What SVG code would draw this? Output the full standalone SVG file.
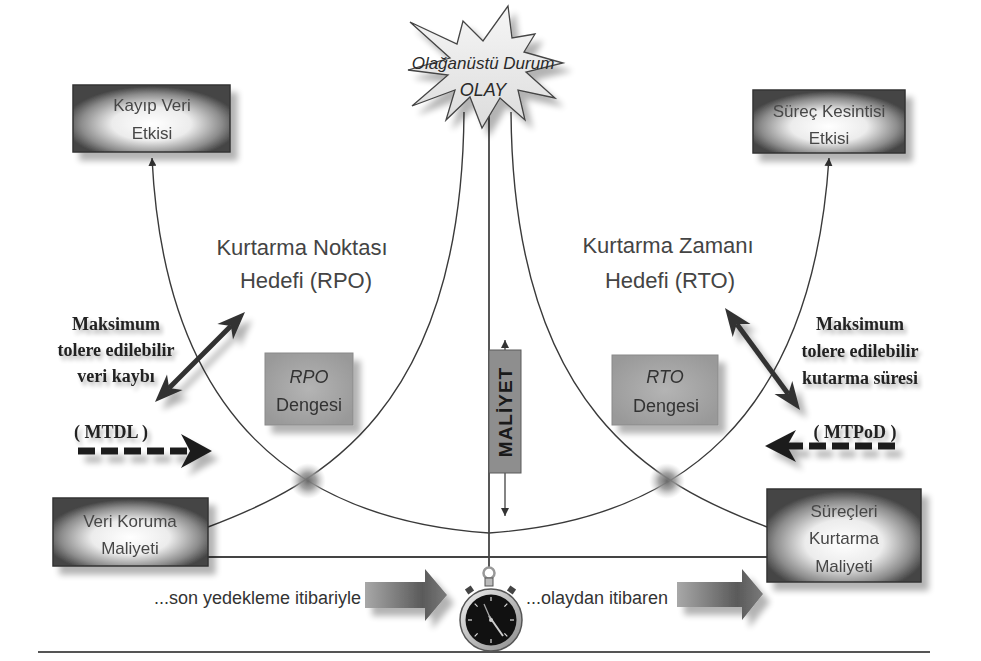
<svg xmlns="http://www.w3.org/2000/svg" width="981" height="661" viewBox="0 0 981 661">
  <defs>
    <style>
      .sans { font-family: "Liberation Sans", Arial, sans-serif; }
      .serif { font-family: "Liberation Serif", "Times New Roman", serif; font-weight: bold; fill: #222; font-size: 18px; }
      .boxtxt { font-family: "Liberation Sans", Arial, sans-serif; font-size: 17px; fill: #474747; text-anchor: middle; }
      .title { font-family: "Liberation Sans", Arial, sans-serif; font-size: 22px; fill: #444; text-anchor: middle; }
      .bal { font-family: "Liberation Sans", Arial, sans-serif; font-size: 18px; fill: #333; text-anchor: middle; }
      .curve { fill: none; stroke: #3a3a3a; stroke-width: 1.4; }
      .axis { fill: none; stroke: #444; stroke-width: 1.8; }
      .darkbox { fill: url(#boxGrad); stroke: #333; stroke-width: 1.5; }
      .graybox { fill: url(#grayGrad); stroke: #8a8a8a; stroke-width: 1; }
      .dbl { fill: #333; }
      .dash { stroke: #1e1e1e; stroke-width: 7; stroke-dasharray: 17 6; fill: none; }
    </style>
    <radialGradient id="boxGrad" cx="0.5" cy="0.58" r="0.56">
      <stop offset="0" stop-color="#ffffff"/>
      <stop offset="0.45" stop-color="#ececec"/>
      <stop offset="0.8" stop-color="#8c8c8c"/>
      <stop offset="1" stop-color="#444"/>
    </radialGradient>
    <radialGradient id="grayGrad" cx="0.5" cy="0.5" r="0.6">
      <stop offset="0" stop-color="#b4b4b4"/>
      <stop offset="1" stop-color="#999"/>
    </radialGradient>
    <radialGradient id="glow" cx="0.5" cy="0.5" r="0.5">
      <stop offset="0" stop-color="#6a6a6a"/>
      <stop offset="0.45" stop-color="#959595" stop-opacity="0.85"/>
      <stop offset="1" stop-color="#c8c8c8" stop-opacity="0"/>
    </radialGradient>
    <linearGradient id="blockGrad" x1="0" y1="0" x2="1" y2="0">
      <stop offset="0" stop-color="#a8a8a8"/>
      <stop offset="0.7" stop-color="#5a5a5a"/>
      <stop offset="1" stop-color="#7a7a7a"/>
    </linearGradient>
    <linearGradient id="starGrad" x1="0" y1="0" x2="0" y2="1">
      <stop offset="0" stop-color="#f6f6f6"/>
      <stop offset="1" stop-color="#dcdcdc"/>
    </linearGradient>
    <linearGradient id="rimGrad" x1="0" y1="0" x2="1" y2="1">
      <stop offset="0" stop-color="#f0f0f0"/>
      <stop offset="1" stop-color="#8a8a8a"/>
    </linearGradient>
    <filter id="shadow" x="-20%" y="-20%" width="150%" height="160%">
      <feGaussianBlur in="SourceAlpha" stdDeviation="3"/>
      <feOffset dx="7" dy="8" result="b"/>
      <feComponentTransfer><feFuncA type="linear" slope="0.3"/></feComponentTransfer>
      <feMerge><feMergeNode/><feMergeNode in="SourceGraphic"/></feMerge>
    </filter>
    <filter id="tshadow" x="-20%" y="-40%" width="150%" height="190%">
      <feGaussianBlur in="SourceAlpha" stdDeviation="2"/>
      <feOffset dx="3" dy="4"/>
      <feComponentTransfer><feFuncA type="linear" slope="0.3"/></feComponentTransfer>
      <feMerge><feMergeNode/><feMergeNode in="SourceGraphic"/></feMerge>
    </filter>
    <marker id="tip" viewBox="0 0 10 10" refX="10" refY="5" markerWidth="8" markerHeight="8" markerUnits="userSpaceOnUse" orient="auto-start-reverse">
      <path d="M0,0 L10,5 L0,10 z" fill="#333"/>
    </marker>
  </defs>

  <rect width="981" height="661" fill="#ffffff"/>

  <!-- connectors: curves, axes and arrows -->
  <g id="connectors">
    <!-- RPO rising cost curve and RTO rising cost curve -->
    <path class="curve" d="M208,527 C320,485 462,410 464,112"/>
    <path class="curve" d="M767,527 C655,485 513,410 511,112"/>
    <!-- impact curves descending to the event line -->
    <path class="curve" d="M152,158 C165,420 300,520 489,533" marker-start="url(#tip)"/>
    <path class="curve" d="M829,158 C812,420 677,520 489,533" marker-start="url(#tip)"/>
    <!-- balance points -->
    <circle cx="308" cy="481" r="18" fill="url(#glow)"/>
    <circle cx="667" cy="481" r="18" fill="url(#glow)"/>
    <!-- event axis and time axis -->
    <line class="axis" x1="489" y1="90" x2="489" y2="567"/>
    <line class="axis" x1="208" y1="557" x2="767" y2="557"/>
    <line x1="38" y1="652" x2="930" y2="652" stroke="#555" stroke-width="2"/>
    <!-- cost arrows -->
    <line x1="505" y1="350" x2="505" y2="340" stroke="#333" stroke-width="1.2" marker-end="url(#tip)"/>
    <line x1="505" y1="473" x2="505" y2="516" stroke="#333" stroke-width="1.2" marker-end="url(#tip)"/>

    <!-- double arrows -->
    <g filter="url(#shadow)">
      <line x1="169.1" y1="387.9" x2="230.9" y2="326.1" stroke="#333" stroke-width="5"/>
      <polygon class="dbl" points="245,312 233,339.6 230.9,326.1 217.4,324"/>
      <polygon class="dbl" points="155,402 182.6,390 169.1,387.9 167,374.4"/>
      <line x1="736.8" y1="324.1" x2="788.2" y2="393.9" stroke="#333" stroke-width="5"/>
      <polygon class="dbl" points="725,308 732.7,337.1 736.8,324.1 750.5,324.1"/>
      <polygon class="dbl" points="800,410 774.5,393.9 788.2,393.9 792.3,380.9"/>
    </g>

    <!-- dashed arrows -->
    <g filter="url(#shadow)">
      <line class="dash" x1="78" y1="451" x2="190" y2="451"/>
      <polygon points="212,451 181,434 190,451 181,468" fill="#1e1e1e"/>
      <line class="dash" x1="895" y1="446" x2="787" y2="446"/>
      <polygon points="765,446 796,430 787,446 796,462" fill="#1e1e1e"/>
    </g>

    <!-- block arrows along the time axis -->
    <g filter="url(#shadow)">
      <polygon points="365,582 425,582 425,569 447,595 425,621 425,608 365,608" fill="url(#blockGrad)"/>
      <polygon points="677,582 742,582 742,569 763,594 742,620 742,607 677,607" fill="url(#blockGrad)"/>
    </g>
  </g>

  <!-- event starburst -->
  <g id="event" filter="url(#shadow)">
    <polygon points="508,6 512,38 535,34 524,52 563,63 526,72 555,98 518,90 525,120 500,98 482,128 470,97 446,120 455,90 412,106 448,75 408,70 450,58 410,22 457,44 463,21 483,41" fill="url(#starGrad)" stroke="#444" stroke-width="1.3" stroke-linejoin="miter"/>
  </g>
  <g id="event-text">
    <text class="sans" x="483" y="69" font-size="17" font-style="italic" fill="#2a2a2a" text-anchor="middle">Olağanüstü Durum</text>
    <text class="sans" x="483" y="96" font-size="18" font-style="italic" fill="#2a2a2a" text-anchor="middle">OLAY</text>
  </g>

  <!-- impact boxes -->
  <g id="kayip-veri" filter="url(#shadow)">
    <rect class="darkbox" x="73" y="85" width="157" height="67"/>
    <text class="boxtxt" x="152" y="111">Kayıp Veri</text>
    <text class="boxtxt" x="152" y="139">Etkisi</text>
  </g>
  <g id="surec-kesintisi" filter="url(#shadow)">
    <rect class="darkbox" x="753" y="90" width="152" height="63"/>
    <text class="boxtxt" x="829" y="117">Süreç Kesintisi</text>
    <text class="boxtxt" x="829" y="144">Etkisi</text>
  </g>

  <!-- cost boxes -->
  <g id="veri-koruma" filter="url(#shadow)">
    <rect class="darkbox" x="53" y="498" width="155" height="68"/>
    <text class="boxtxt" x="130" y="527">Veri Koruma</text>
    <text class="boxtxt" x="130" y="554">Maliyeti</text>
  </g>
  <g id="surec-kurtarma" filter="url(#shadow)">
    <rect class="darkbox" x="767" y="489" width="154" height="93"/>
    <text class="boxtxt" x="844" y="517">Süreçleri</text>
    <text class="boxtxt" x="844" y="544">Kurtarma</text>
    <text class="boxtxt" x="844" y="572">Maliyeti</text>
  </g>

  <!-- objective titles -->
  <g id="rpo-title">
    <text class="title" x="302" y="255">Kurtarma Noktası</text>
    <text class="title" x="306" y="288">Hedefi (RPO)</text>
  </g>
  <g id="rto-title">
    <text class="title" x="668" y="253">Kurtarma Zamanı</text>
    <text class="title" x="670" y="288">Hedefi (RTO)</text>
  </g>

  <!-- balance boxes -->
  <g id="rpo-dengesi" filter="url(#shadow)">
    <rect class="graybox" x="265" y="353" width="88" height="72"/>
    <text class="bal" x="309" y="383" font-style="italic">RPO</text>
    <text class="bal" x="309" y="411">Dengesi</text>
  </g>
  <g id="rto-dengesi" filter="url(#shadow)">
    <rect class="graybox" x="612" y="355" width="106" height="70"/>
    <text class="bal" x="665" y="383" font-style="italic">RTO</text>
    <text class="bal" x="666" y="412">Dengesi</text>
  </g>

  <!-- cost axis label -->
  <g id="maliyet">
    <rect x="489" y="350" width="32" height="123" fill="#8e8e8e" stroke="#5a5a5a" stroke-width="1"/>
    <text class="sans" transform="translate(512,412) rotate(-90)" font-size="19" font-weight="bold" letter-spacing="1" fill="#1a1a1a" text-anchor="middle">MALİYET</text>
  </g>

  <!-- tolerance labels -->
  <g id="mtdl-label" filter="url(#tshadow)">
    <text class="serif" x="116" y="330" text-anchor="middle">Maksimum</text>
    <text class="serif" x="116" y="356" text-anchor="middle">tolere edilebilir</text>
    <text class="serif" x="116" y="382" text-anchor="middle">veri kaybı</text>
    <text class="serif" x="111" y="438" text-anchor="middle" font-size="17">( MTDL )</text>
  </g>
  <g id="mtpod-label" filter="url(#tshadow)">
    <text class="serif" x="860" y="330" text-anchor="middle">Maksimum</text>
    <text class="serif" x="860" y="357" text-anchor="middle">tolere edilebilir</text>
    <text class="serif" x="860" y="384" text-anchor="middle">kutarma süresi</text>
    <text class="serif" x="855" y="438" text-anchor="middle" font-size="17">( MTPoD )</text>
  </g>

  <!-- time labels -->
  <g id="time-labels">
    <text class="sans" x="361" y="604" font-size="18" fill="#333" text-anchor="end">...son yedekleme itibariyle</text>
    <text class="sans" x="668" y="604" font-size="18" fill="#333" text-anchor="end">...olaydan itibaren</text>
  </g>

  <!-- stopwatch -->
  <g id="stopwatch">
    <circle cx="489" cy="573" r="5.5" fill="none" stroke="#999" stroke-width="2.5"/>
    <rect x="485" y="578" width="8" height="8" fill="#bbb" stroke="#555" stroke-width="1"/>
    <rect x="466" y="587" width="7" height="6" fill="#444" transform="rotate(-35 469.5 590)"/>
    <rect x="508" y="587" width="7" height="6" fill="#444" transform="rotate(35 511.5 590)"/>
    <circle cx="491" cy="620" r="31" fill="url(#rimGrad)" stroke="#555" stroke-width="1.5"/>
    <circle cx="491" cy="620" r="25.5" fill="#111"/>
    <g stroke="#ddd" stroke-width="1.2">
      <line x1="491" y1="597" x2="491" y2="601"/>
      <line x1="491" y1="639" x2="491" y2="643"/>
      <line x1="468" y1="620" x2="472" y2="620"/>
      <line x1="510" y1="620" x2="514" y2="620"/>
      <line x1="507.3" y1="603.7" x2="504.4" y2="606.6"/>
      <line x1="474.7" y1="603.7" x2="477.6" y2="606.6"/>
      <line x1="507.3" y1="636.3" x2="504.4" y2="633.4"/>
      <line x1="474.7" y1="636.3" x2="477.6" y2="633.4"/>
    </g>
    <line x1="489" y1="616" x2="503" y2="636" stroke="#ccc" stroke-width="2"/>
    <line x1="491" y1="620" x2="484" y2="604" stroke="#aaa" stroke-width="1.2"/>
    <circle cx="491" cy="620" r="2" fill="#ccc"/>
  </g>
</svg>
